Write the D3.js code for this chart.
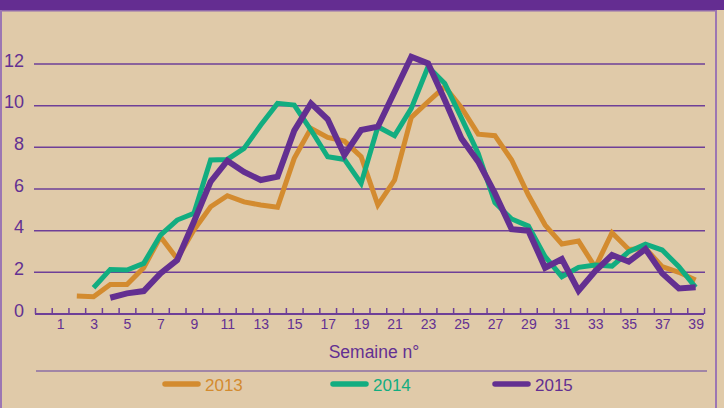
<html>
<head>
  <script src="https://d3js.org/d3.v7.min.js"></script>
  <meta charset="utf-8">
  <title>Semaine</title>
<style>
body {
  margin: 0;
  background: #e0caa9;
}
svg {
  display: block;
  font-family: "Liberation Sans", Arial, sans-serif;
}
</style>
</head>
<body>
<script>
var width = 724,
    height = 408;

// weeks and values per year
var weeks2013 = d3.range(2, 40);
var values2013 = [0.86, 0.83, 1.42, 1.42, 2.22, 3.71, 2.65, 4.03, 5.15, 5.68, 5.38, 5.23, 5.12,
  7.47, 8.91, 8.48, 8.3, 7.55, 5.23, 6.43, 9.44, 10.19, 10.91, 9.9, 8.63, 8.56, 7.39, 5.71,
  4.27, 3.36, 3.5, 2.24, 3.9, 3.1, 3.15, 2.27, 2.0, 1.63];
var weeks2014 = d3.range(3, 40);
var values2014 = [1.26, 2.14, 2.11, 2.43, 3.79, 4.51, 4.83, 7.39, 7.42, 7.95, 9.07, 10.11, 10.03,
  8.83, 7.55, 7.42, 6.27, 8.99, 8.56, 9.87, 11.87, 11.07, 9.4, 7.71, 5.34, 4.56, 4.22, 2.75,
  1.79, 2.24, 2.35, 2.3, 2.99, 3.35, 3.07, 2.27, 1.28];
var weeks2015 = d3.range(4, 40);
var values2015 = [0.78, 0.99, 1.1, 1.95, 2.59, 4.43, 6.35, 7.36, 6.82, 6.43, 6.59, 8.8, 10.11,
  9.35, 7.63, 8.83, 8.99, 10.67, 12.35, 12.03, 10.27, 8.42, 7.31, 5.79, 4.07, 4.0, 2.22,
  2.64, 1.12, 2.06, 2.83, 2.51, 3.12, 1.95, 1.23, 1.28];

var years = ['2013', '2014', '2015'];
var colors = ['#d38b2f', '#12ad80', '#632f91'];
var yTicks = [0, 2, 4, 6, 8, 10, 12];
var xLabels = d3.range(1, 40, 2);

var series = [
  {year: years[0], color: colors[0], w: 5, pts: weeks2013.map(function (w, i) { return [w, values2013[i]]; })},
  {year: years[1], color: colors[1], w: 5, pts: weeks2014.map(function (w, i) { return [w, values2014[i]]; })},
  {year: years[2], color: colors[2], w: 6, pts: weeks2015.map(function (w, i) { return [w, values2015[i]]; })}
];

var svg = d3.select('body').append('svg')
  .attr('width', width)
  .attr('height', height);

svg.append('rect')
  .attr('width', width).attr('height', height)
  .attr('fill', '#e0caa9');

// frame
svg.append('rect').attr('x', 0).attr('y', 0).attr('width', width).attr('height', 10).attr('fill', '#642d91');
svg.append('rect').attr('x', 0).attr('y', 10).attr('width', 717).attr('height', 1.5).attr('fill', '#9069ab');
svg.append('rect').attr('x', 0).attr('y', 10).attr('width', 2).attr('height', height).attr('fill', '#9c76b3');
svg.append('rect').attr('x', 715).attr('y', 10).attr('width', 2).attr('height', height).attr('fill', '#9c76b3');

var x = d3.scaleLinear().domain([-0.5, 39.5]).range([35, 704]);
var y = d3.scaleLinear().domain([0, 12]).range([314, 64]);

// grid + y labels
var yAxis = svg.append('g')
  .attr('transform', 'translate(35,0)')
  .call(d3.axisLeft(y).tickValues(yTicks).tickSize(0).tickPadding(11));
yAxis.select('.domain').remove();
yAxis.selectAll('text')
  .attr('font-size', 18)
  .attr('dy', '0.12em')
  .attr('fill', '#633092');

svg.append('g').selectAll('line')
  .data(yTicks.filter(function (d) { return d > 0; }))
  .enter().append('line')
  .attr('x1', 34).attr('x2', 705)
  .attr('y1', function (d) { return y(d); })
  .attr('y2', function (d) { return y(d); })
  .attr('stroke', '#6e3f98')
  .attr('stroke-width', 1.5);

// x ticks (between weeks)
var xTicks = svg.append('g')
  .attr('transform', 'translate(0,314)')
  .call(d3.axisTop(x).tickValues(d3.range(-0.5, 40, 1)).tickSize(6).tickFormat(''));
xTicks.select('.domain').attr('stroke', '#6e3f98').attr('stroke-width', 1.8).attr('d', 'M35,0H704');
xTicks.selectAll('.tick line').attr('stroke', '#6e3f98').attr('stroke-width', 1.5);

var xAxis = svg.append('g')
  .attr('transform', 'translate(0,314)')
  .call(d3.axisBottom(x).tickValues(xLabels).tickSize(0).tickPadding(5));
xAxis.select('.domain').remove();
xAxis.selectAll('text')
  .attr('font-size', 14)
  .attr('fill', '#633092');

svg.append('text')
  .attr('x', 374).attr('y', 358)
  .attr('text-anchor', 'middle')
  .attr('font-size', 17.5)
  .attr('fill', '#633092')
  .text('Semaine n°');

svg.append('line')
  .attr('x1', 36).attr('x2', 707)
  .attr('y1', 371).attr('y2', 371)
  .attr('stroke', '#8d6ea6')
  .attr('stroke-width', 1.5);

// lines
var line = d3.line()
  .x(function (d) { return x(d[0]); })
  .y(function (d) { return y(d[1]); });

svg.append('g').selectAll('path')
  .data(series)
  .enter().append('path')
  .attr('d', function (d) { return line(d.pts); })
  .attr('fill', 'none')
  .attr('stroke', function (d) { return d.color; })
  .attr('stroke-width', function (d) { return d.w; })
  .attr('stroke-linejoin', 'miter');

// legend
var legendX = [165, 333, 495];
var legend = svg.append('g').selectAll('g')
  .data(series)
  .enter().append('g')
  .attr('transform', function (d, i) { return 'translate(' + legendX[i] + ',384)'; });
legend.append('line')
  .attr('x1', 0).attr('x2', 33)
  .attr('stroke', function (d) { return d.color; })
  .attr('stroke-width', 5.5)
  .attr('stroke-linecap', 'round');
legend.append('text')
  .attr('x', 40).attr('y', 6.5)
  .attr('font-size', 17)
  .attr('fill', function (d) { return d.color; })
  .text(function (d) { return d.year; });

</script>
</body>
</html>
